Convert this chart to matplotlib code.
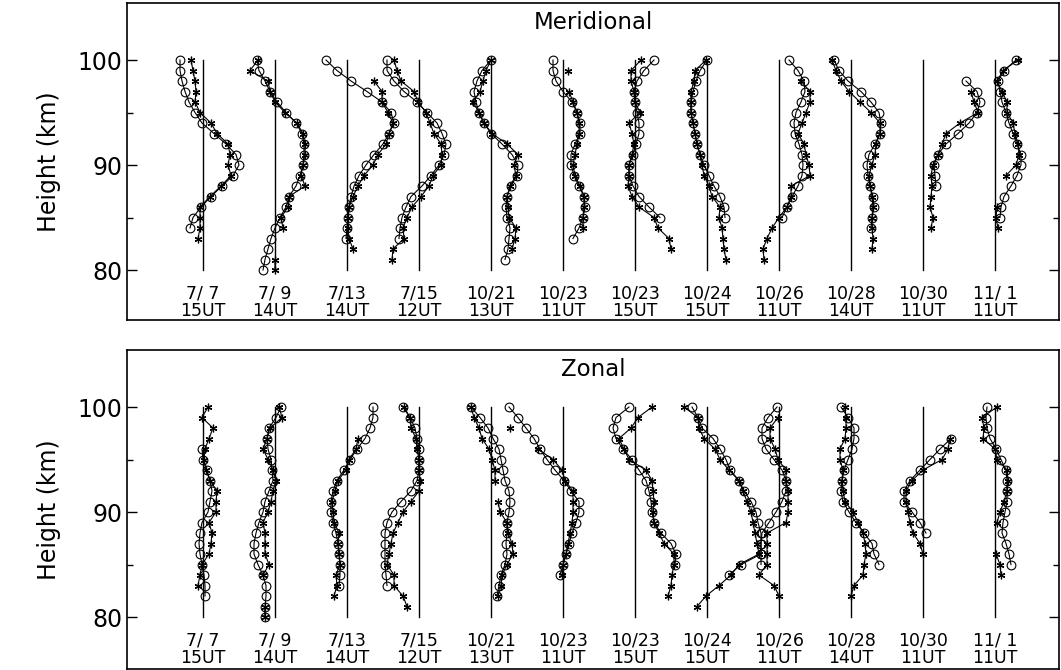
import numpy as np
import matplotlib
matplotlib.use("Agg")
import matplotlib.pyplot as plt

n = np.nan

# heights of the profile samples (km), top to bottom
heights = np.arange(100, 79, -1)

dates = ["7/ 7", "7/ 9", "7/13", "7/15", "10/21", "10/23",
         "10/23", "10/24", "10/26", "10/28", "10/30", "11/ 1"]
times = ["15UT", "14UT", "14UT", "12UT", "13UT", "11UT",
         "15UT", "15UT", "11UT", "14UT", "11UT", "11UT"]

# ---- Meridional: offsets from each profile's zero line, 100 km -> 80 km ----
mer_circ = [
    [-23, -23, -21, -18, -14, -8, -1, 11, 23, 33, 36, 30, 19, 8, -2, -10, -13, n, n, n, n],
    [-18, -16, -10, -5, 2, 11, 21, 27, 29, 29, 28, 25, 21, 14, 11, 5, 0, -4, -7, -10, -12],
    [-21, -10, 4, 20, 35, 44, 47, 42, 36, 27, 19, 12, 7, 4, 2, 1, 0, -1, n, n, n],
    [-32, -32, -25, -15, -2, 8, 18, 23, 27, 25, 20, 12, 3, -8, -13, -17, -19, -20, n, n, n],
    [0, -9, -14, -17, -15, -12, -7, 0, 11, 21, 27, 26, 20, 16, 15, 16, 19, 18, 17, 14, n],
    [-10, -10, -7, 0, 9, 14, 17, 17, 12, 8, 8, 11, 16, 21, 22, 20, 16, 10, n, n, n],
    [19, 9, 2, -1, 0, 2, 4, 4, 1, -2, -6, -6, -2, 4, 14, 25, n, n, n, n, n],
    [0, -7, -11, -14, -16, -16, -14, -12, -10, -7, -3, 2, 7, 13, 17, 18, n, n, n, n, n],
    [10, 19, 25, 26, 22, 17, 15, 16, 20, 23, 24, 23, 19, 13, 8, 3, n, n, n, n, n],
    [-17, -12, -3, 10, 20, 28, 30, 29, 24, 18, 16, 17, 19, 22, 23, 21, 20, n, n, n, n],
    [n, n, 43, 54, 57, 54, 46, 35, 23, 15, 11, 12, 13, n, n, n, n, n, n, n, n],
    [21, 9, 3, 5, 7, 11, 14, 18, 22, 26, 26, 22, 16, 9, 6, 5, n, n, n, n, n],
]
mer_star = [
    [-12, -10, -8, -7, -8, -3, 8, 14, 25, 27, 25, 28, 18, 7, -3, -3, -3, -5, n, n, n],
    [-17, -25, -7, -5, 0, 10, 22, 28, 30, 30, 28, 26, 30, 14, 13, 6, 8, n, n, 0, 0],
    [n, n, 27, 35, 35, 41, 46, 42, 39, 31, 26, 17, 11, 6, 2, 1, 1, 2, 6, n, n],
    [-25, -22, -18, -5, -1, 7, 11, 15, 22, 23, 22, 14, 10, 2, -7, -12, -16, -15, -26, -27, n],
    [0, -5, -8, -11, -18, -12, -7, 1, 16, 27, 23, 25, 19, 16, 17, 18, 25, 24, 21, n, n],
    [n, 5, n, 6, 10, 14, 16, 16, 14, 12, 10, 12, 17, 21, 21, 20, 20, n, n, n, n],
    [6, -4, -4, -1, 0, 5, -6, -3, -1, -3, -6, -6, -7, -3, 4, 19, 23, 34, 36, n, n],
    [-1, -12, -13, -16, -16, -16, -14, -12, -10, -7, -5, -3, 2, 5, 13, 12, 15, 16, 17, 19, n],
    [n, n, 22, 31, 31, 27, 23, 19, 25, 27, 30, 31, 12, 12, 8, 0, -7, -12, -16, -15, n],
    [-19, -15, -10, -2, 9, 20, 29, 29, 25, 24, 21, 18, 19, 21, 22, 21, 21, 22, 21, n, n],
    [n, n, n, 48, 51, 55, 37, 23, 19, 15, 10, 8, 9, 8, 7, 10, 8, n, n, n, n],
    [23, 8, 2, 7, 12, 12, 18, 20, 23, 24, 21, 11, n, n, 2, 1, 3, n, n, n, n],
]

# ---- Zonal ----
zon_circ = [
    [n, n, n, n, -1, 0, 4, 7, 9, 7, 5, -1, -3, -4, -3, -1, 1, 2, 2, n, n],
    [6, 1, -6, -8, -7, -4, -3, -2, -6, -10, -12, -16, -19, -21, -21, -17, -12, -9, -9, -10, -10],
    [26, 26, 23, 18, 10, 3, -3, -10, -14, -16, -16, -14, -11, -9, -8, -7, -7, -8, n, n, n],
    [-16, -9, -4, -2, 0, 0, 0, -2, -8, -18, -27, -32, -34, -34, -34, -34, -33, -32, n, n, n],
    [-20, -11, -3, 2, 8, 10, 12, 14, 18, 19, 18, 16, 16, 15, 16, 14, 10, 8, 6, n, n],
    [-54, -45, -37, -29, -23, -16, -8, 1, 8, 16, 16, 13, 9, 6, 3, 0, -3, n, n, n, n],
    [-6, -19, -22, -19, -12, -3, 4, 11, 14, 16, 17, 19, 26, 36, 41, 40, n, n, n, n, n],
    [-15, -9, -5, 6, 13, 19, 23, 32, 37, 44, 49, 51, 54, 54, 54, 34, 22, n, n, n, n],
    [-2, -11, -17, -17, -13, -5, 3, 7, 7, 3, -3, -10, -17, -18, -18, -18, n, n, n, n, n],
    [-10, -3, 3, 3, 1, -3, -7, -9, -10, -8, -2, 5, 13, 21, 23, 28, n, n, n, n, n],
    [n, n, n, 28, 17, 7, -3, -13, -19, -19, -11, -3, 3, n, n, n, n, n, n, n, n],
    [-8, -9, -8, -5, 1, 6, 11, 12, 12, 12, 10, 8, 7, 11, 14, 16, n, n, n, n, n],
]
zon_star = [
    [5, -1, 10, 6, 2, 1, 3, 7, 14, 13, 13, 6, 9, 8, 6, -1, -3, -5, n, n, n],
    [4, 7, -5, -8, -12, -7, -2, 1, -2, -4, -7, -12, -10, -10, -10, -6, -12, n, n, -10, -10],
    [n, n, n, 11, 9, 2, -1, -9, -12, -15, -14, -13, -8, -9, -8, -7, -11, -10, -13, n, n],
    [-15, -9, -8, -3, -2, 0, 0, 1, 0, -8, -16, -21, -26, -28, -30, -32, -25, -25, -16, -12, n],
    [-20, -17, -12, -9, -2, 1, 4, 4, n, 7, 9, 16, 17, 21, 22, 16, 11, 10, 7, n, n],
    [n, n, -53, n, -25, -10, -1, 2, 10, 10, 10, 9, 7, 5, 3, 0, -1, n, n, n, n],
    [17, 3, -4, -16, -11, -6, 11, 17, 18, 19, 18, 19, 24, 29, 39, 39, 37, 36, 33, n, n],
    [-23, -9, -8, -3, 8, 13, 22, 32, 36, 40, 44, 46, 48, 50, 52, 32, 24, 12, -1, -10, n],
    [n, -1, -9, -9, -4, -1, 7, 7, 9, 9, 9, 7, -12, -12, -12, -12, -20, -5, 0, n, n],
    [-6, -5, -5, -6, -11, -11, -8, -9, -8, -6, 2, 7, 12, 14, 15, 13, 12, 3, 0, n, n],
    [n, n, n, 27, 25, 19, 0, -11, -17, -17, -15, -13, -10, -3, 0, n, n, n, n, n, n],
    [2, -13, -11, -12, 0, 2, 12, 13, 12, 9, 5, 2, n, n, 1, 5, 6, n, n, n, n],
]

spacing = 72.0
star_marker = (6, 2, 0)
label_mid = 76.95   # height between the date line and the UT line


def draw_panel(ax, title, circ, star, ylim):
    for i in range(len(dates)):
        x0 = i * spacing
        ax.plot([x0, x0], [80, 100], color="black", lw=1.0)
        ax.plot(x0 + np.array(circ[i], float), heights, color="black", lw=0.8,
                marker="o", ms=6.3, mfc="none", mec="black", mew=0.8)
        ax.plot(x0 + np.array(star[i], float), heights, color="black", lw=0.8,
                marker=star_marker, ms=5.5, mec="black", mew=0.9)
        ax.text(x0, label_mid, dates[i], ha="center", va="bottom", fontsize=12.5)
        ax.text(x0, label_mid, times[i], ha="center", va="top", fontsize=12.5)
    ax.set_xlim(-76, 856)
    ax.set_ylim(*ylim)
    ax.text(sum(ax.get_xlim()) / 2, 103.55, title, ha="center", va="center",
            fontsize=16.5)
    ax.set_yticks([80, 90, 100])
    ax.set_yticks([85, 95], minor=True)
    ax.set_xticks([])
    ax.tick_params(axis="y", which="both", direction="in", left=True, right=True,
                   labelsize=17)
    ax.tick_params(axis="y", which="major", length=7, width=1)
    ax.tick_params(axis="y", which="minor", length=4, width=1)
    ax.set_ylabel("Height (km)", fontsize=17, labelpad=12)
    for s in ax.spines.values():
        s.set_linewidth(1.2)


fig = plt.figure(figsize=(10.61, 6.70), dpi=100)
ax1 = fig.add_axes([127 / 1061, 1 - 320 / 670, 932 / 1061, 317 / 670])
ax2 = fig.add_axes([127 / 1061, 1 - 669 / 670, 932 / 1061, 319 / 670])

draw_panel(ax1, "Meridional", mer_circ, mer_star, (75.24, 105.43))
draw_panel(ax2, "Zonal", zon_circ, zon_star, (75.05, 105.43))

fig.savefig("out.png", dpi=100)
